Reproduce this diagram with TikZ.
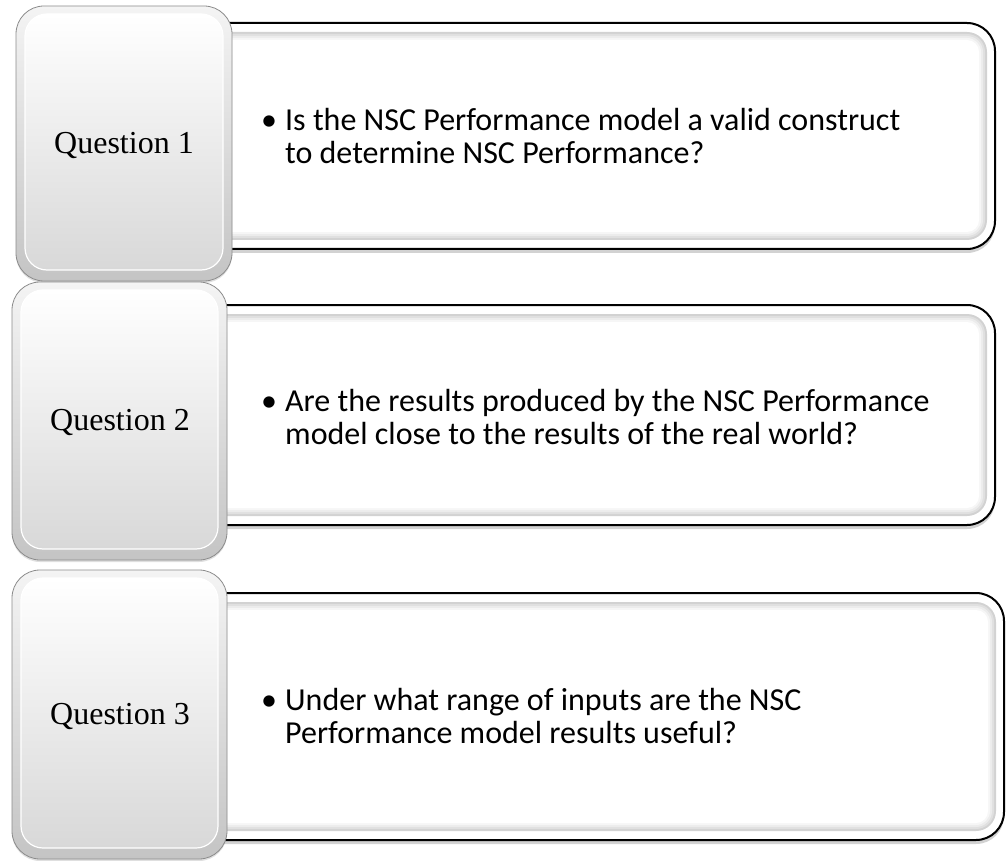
\documentclass[tikz,border=0pt]{standalone}
\usepackage{fontspec}
\setmainfont{Carlito}
\newfontfamily\qfont{Liberation Serif}
\usetikzlibrary{shadows}
\definecolor{rimline}{HTML}{8C8C8C}
\definecolor{rimtop}{HTML}{F4F4F4}
\definecolor{rimbot}{HTML}{C4C4C4}
\definecolor{facemid}{HTML}{F2F2F2}
\definecolor{facebot}{HTML}{D8D8D8}
\definecolor{bandA}{HTML}{D2D2D2}
\definecolor{bandB}{HTML}{E0E0E0}
\definecolor{bandC}{HTML}{ECECEC}
\definecolor{bandD}{HTML}{F6F6F6}
\tikzset{
  qtext/.style={font=\qfont\fontsize{32}{36}\selectfont, inner sep=0pt},
  btext/.style={font=\fontsize{32}{33}\selectfont, align=left, inner sep=0pt, anchor=west},
  outerbox/.style={fill=white, draw=black, line width=2pt, rounded corners=28pt,
    drop shadow={opacity=0.35, shadow xshift=0pt, shadow yshift=-4pt}},
}
\newcommand\bul{\makebox[20pt][l]{\hspace{-4pt}•}}
\newcommand\rightpanel[4]{%
  \path[outerbox] (#1,#2) rectangle (#3,#4);
  \fill[bandA, rounded corners=20pt] (#1+8,#2+9) rectangle (#3-8,#4-9);
  \fill[bandB, rounded corners=18pt] (#1+10,#2+11) rectangle (#3-10,#4-11);
  \fill[bandC, rounded corners=16pt] (#1+12,#2+13) rectangle (#3-12,#4-13);
  \fill[bandD, rounded corners=14pt] (#1+14,#2+15) rectangle (#3-14,#4-15);
  \fill[white, rounded corners=12pt] (#1+16,#2+17) rectangle (#3-16,#4-17);
}
\newcommand\leftpanel[4]{%
  \shade[rounded corners=28pt, top color=rimtop, bottom color=rimbot, draw=rimline, line width=0.8pt,
    drop shadow={opacity=0.25, shadow xshift=0pt, shadow yshift=-2pt}] (#1,#2) rectangle (#3,#4);
  \shade[rounded corners=22pt, top color=white, middle color=facemid, bottom color=facebot,
    draw=white, line width=1.2pt] (#1+9,#2+8) rectangle (#3-9,#4-11);
}
\begin{document}
\begin{tikzpicture}[x=1pt,y=-1pt]
\useasboundingbox (0,0) rectangle (1007,861);
\fill[white] (0,0) rectangle (1007,861);
% Row 1
\rightpanel{124}{23}{995}{249}
\leftpanel{16}{6}{232}{281}
\node[qtext] (q1) at (124,146) {Question 1};
\node[btext] (t1) at (265,136) {\bul Is the NSC Performance model a valid construct\\\hspace*{20pt}to determine NSC Performance?};
% Row 2
\rightpanel{120}{305}{995}{525}
\leftpanel{12}{282}{227}{560}
\node[qtext] (q2) at (120,422) {Question 2};
\node[btext] (t2) at (265,417) {\bul Are the results produced by the NSC Performance\\\hspace*{20pt}model close to the results of the real world?};
% Row 3
\rightpanel{120}{593}{1004}{840}
\leftpanel{12}{570}{227}{859}
\node[qtext] (q3) at (120,716) {Question 3};
\node[btext] (t3) at (265,716) {\bul Under what range of inputs are the NSC\\\hspace*{20pt}Performance model results useful?};
\end{tikzpicture}
\end{document}
